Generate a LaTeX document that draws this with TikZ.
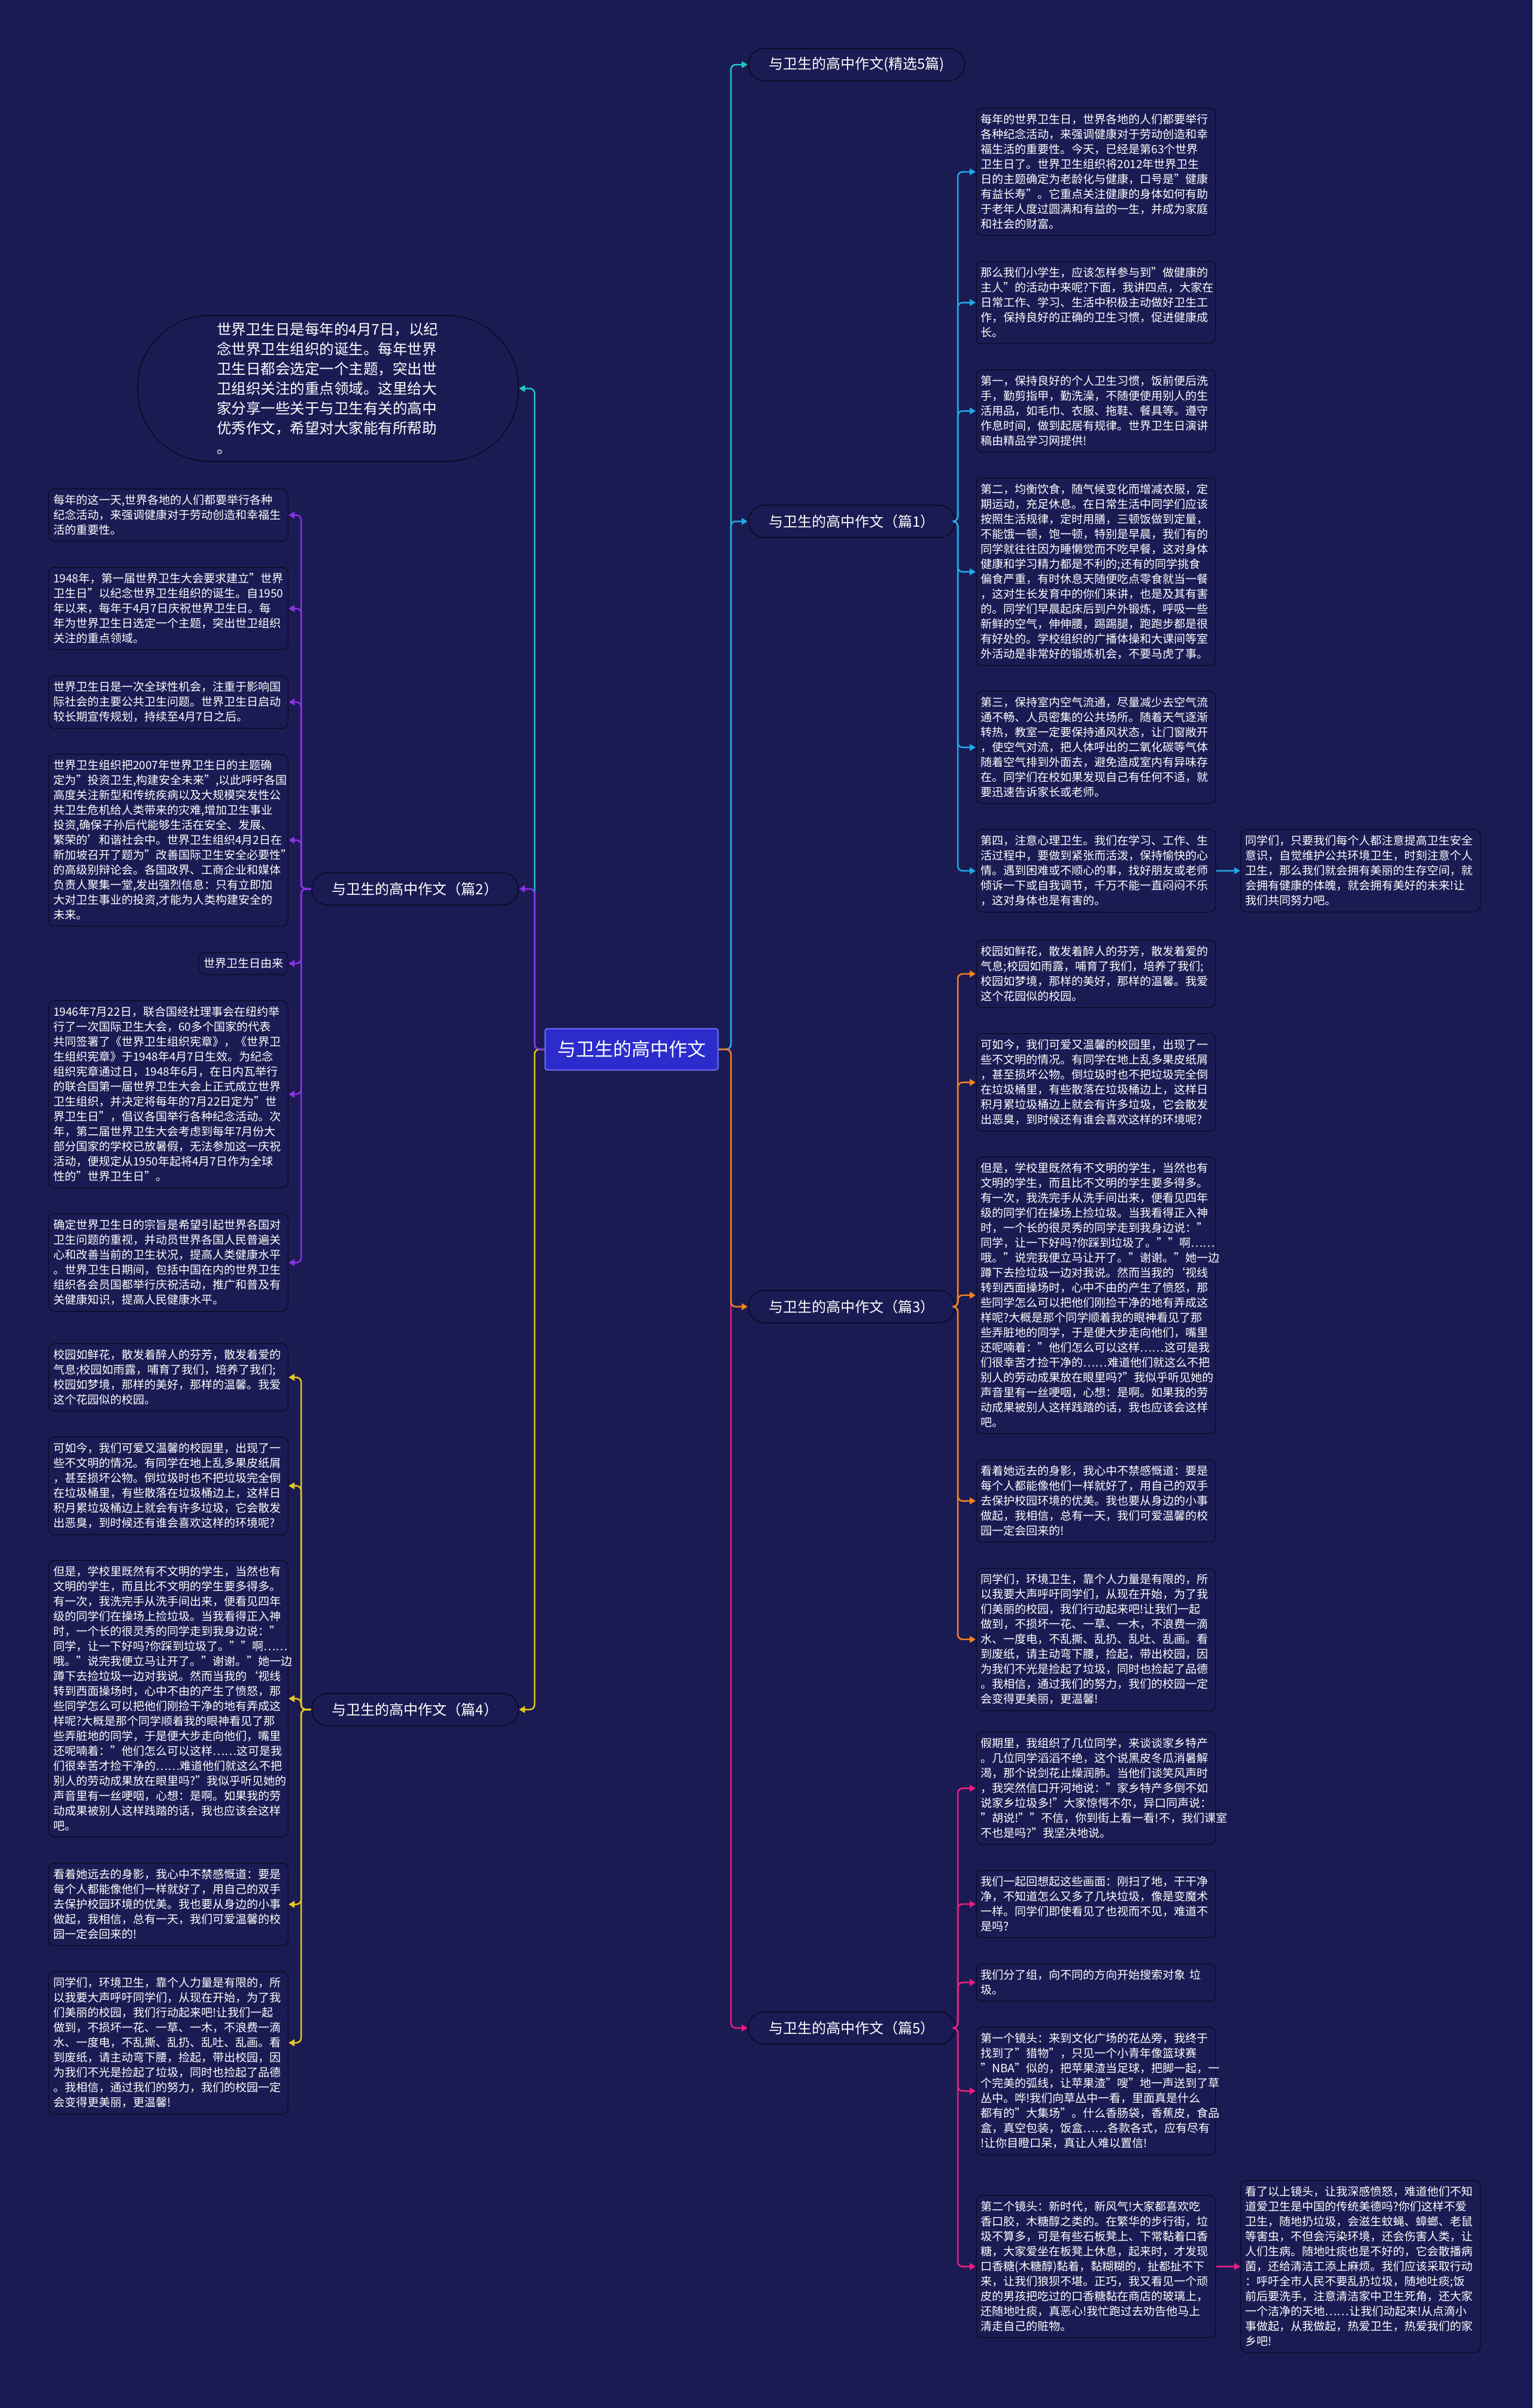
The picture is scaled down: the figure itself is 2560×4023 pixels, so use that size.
\documentclass[tikz,border=0pt]{standalone}
\usepackage{fontspec}
\setmainfont{Noto Sans CJK SC}
\usetikzlibrary{arrows.meta}
\definecolor{bgc}{RGB}{27,27,84}
\definecolor{boxline}{RGB}{12,12,42}
\definecolor{cfill}{RGB}{44,44,205}
\definecolor{cline}{RGB}{110,110,255}
\definecolor{cteal}{RGB}{31,200,200}
\definecolor{cblue}{RGB}{34,170,230}
\definecolor{cpurple}{RGB}{140,50,230}
\definecolor{corange}{RGB}{245,130,32}
\definecolor{cyellow}{RGB}{230,200,30}
\definecolor{cpink}{RGB}{235,30,130}
\begin{document}
\begin{tikzpicture}[x=1pt,y=-1pt,
  txt/.style={draw=boxline, fill=bgc, line width=1.5pt, rounded corners=10pt, text=white, text width=384pt, align=left, inner xsep=8pt, inner ysep=10pt, font=\fontsize{19pt}{25pt}\selectfont},
  branch/.style={draw=boxline, fill=bgc, line width=2pt, rounded corners=27pt, text=white, minimum height=54pt, inner xsep=34pt, font=\fontsize{24pt}{28pt}\selectfont},
  link/.style={line width=2.5pt, rounded corners=8pt, -{Triangle[length=10pt,width=11pt]}},
]
\fill[bgc] (0,0) rectangle (2560,4023);
\useasboundingbox (0,0) rectangle (2560,4023);

% centre
\node[draw=cline, fill=cfill, line width=2pt, rounded corners=4pt, text=white, minimum width=289pt, minimum height=69pt, font=\fontsize{31pt}{36pt}\selectfont] (c) at (1055,1753) {与卫生的高中作文};

% branches
\node[branch, anchor=west] (b0) at (1249,108) {与卫生的高中作文(精选5篇)};
\node[branch, anchor=west] (b1) at (1249,871) {与卫生的高中作文（篇1）};
\node[branch, anchor=west] (b3) at (1249,2183) {与卫生的高中作文（篇3）};
\node[branch, anchor=west] (b5) at (1249,3388) {与卫生的高中作文（篇5）};
\node[branch, anchor=east] (b2) at (867,1485) {与卫生的高中作文（篇2）};
\node[branch, anchor=east] (b4) at (867,2856) {与卫生的高中作文（篇4）};

\node[draw=boxline, fill=bgc, line width=2pt, rounded corners=120pt, text=white, minimum width=636pt, minimum height=244pt, text width=372pt, align=left, font=\fontsize{24.5pt}{33pt}\selectfont, anchor=east] (intro) at (867,649) {世界卫生日是每年的4月7日，以纪\\念世界卫生组织的诞生。每年世界\\卫生日都会选定一个主题，突出世\\卫组织关注的重点领域。这里给大\\家分享一些关于与卫生有关的高中\\优秀作文，希望对大家能有所帮助\\。};

% elbow points
\coordinate (ec) at (1221,1753);
\coordinate (ecl) at (893,1753);
\coordinate (e1) at (1600,871);
\coordinate (e3) at (1600,2183);
\coordinate (e5) at (1600,3388);
\coordinate (e2) at (503,1485);
\coordinate (e4) at (503,2856);

% 篇1 children
\node[txt, anchor=north west] (r1a) at (1630,180) {每年的世界卫生日，世界各地的人们都要举行\\各种纪念活动，来强调健康对于劳动创造和幸\\福生活的重要性。今天，已经是第63个世界\\卫生日了。世界卫生组织将2012年世界卫生\\日的主题确定为老龄化与健康，口号是"健康\\有益长寿"。它重点关注健康的身体如何有助\\于老年人度过圆满和有益的一生，并成为家庭\\和社会的财富。};
\node[txt, anchor=north west] (r1b) at (1630,436) {那么我们小学生，应该怎样参与到"做健康的\\主人"的活动中来呢?下面，我讲四点，大家在\\日常工作、学习、生活中积极主动做好卫生工\\作，保持良好的正确的卫生习惯，促进健康成\\长。};
\node[txt, anchor=north west] (r1c) at (1630,617) {第一，保持良好的个人卫生习惯，饭前便后洗\\手，勤剪指甲，勤洗澡，不随便使用别人的生\\活用品，如毛巾、衣服、拖鞋、餐具等。遵守\\作息时间，做到起居有规律。世界卫生日演讲\\稿由精品学习网提供!};
\node[txt, anchor=north west] (r1d) at (1630,798) {第二，均衡饮食，随气候变化而增减衣服，定\\期运动，充足休息。在日常生活中同学们应该\\按照生活规律，定时用膳，三顿饭做到定量，\\不能饿一顿，饱一顿，特别是早晨，我们有的\\同学就往往因为睡懒觉而不吃早餐，这对身体\\健康和学习精力都是不利的;还有的同学挑食\\偏食严重，有时休息天随便吃点零食就当一餐\\，这对生长发育中的你们来讲，也是及其有害\\的。同学们早晨起床后到户外锻炼，呼吸一些\\新鲜的空气，伸伸腰，踢踢腿，跑跑步都是很\\有好处的。学校组织的广播体操和大课间等室\\外活动是非常好的锻炼机会，不要马虎了事。};
\node[txt, anchor=north west] (r1e) at (1630,1154) {第三，保持室内空气流通，尽量减少去空气流\\通不畅、人员密集的公共场所。随着天气逐渐\\转热，教室一定要保持通风状态，让门窗敞开\\，使空气对流，把人体呼出的二氧化碳等气体\\随着空气排到外面去，避免造成室内有异味存\\在。同学们在校如果发现自己有任何不适，就\\要迅速告诉家长或老师。};
\node[txt, anchor=north west] (r1f) at (1630,1385) {第四，注意心理卫生。我们在学习、工作、生\\活过程中，要做到紧张而活泼，保持愉快的心\\情。遇到困难或不顺心的事，找好朋友或老师\\倾诉一下或自我调节，千万不能一直闷闷不乐\\，这对身体也是有害的。};
\node[txt, anchor=north west] (r1g) at (2072,1385) {同学们，只要我们每个人都注意提高卫生安全\\意识，自觉维护公共环境卫生，时刻注意个人\\卫生，那么我们就会拥有美丽的生存空间，就\\会拥有健康的体魄，就会拥有美好的未来!让\\我们共同努力吧。};

% 篇3 children
\node[txt, anchor=north west] (r3a) at (1630,1570) {校园如鲜花，散发着醉人的芬芳，散发着爱的\\气息;校园如雨露，哺育了我们，培养了我们;\\校园如梦境，那样的美好，那样的温馨。我爱\\这个花园似的校园。};
\node[txt, anchor=north west] (r3b) at (1630,1726) {可如今，我们可爱又温馨的校园里，出现了一\\些不文明的情况。有同学在地上乱多果皮纸屑\\，甚至损坏公物。倒垃圾时也不把垃圾完全倒\\在垃圾桶里，有些散落在垃圾桶边上，这样日\\积月累垃圾桶边上就会有许多垃圾，它会散发\\出恶臭，到时候还有谁会喜欢这样的环境呢?};
\node[txt, anchor=north west] (r3c) at (1630,1932) {但是，学校里既然有不文明的学生，当然也有\\文明的学生，而且比不文明的学生要多得多。\\有一次，我洗完手从洗手间出来，便看见四年\\级的同学们在操场上捡垃圾。当我看得正入神\\时，一个长的很灵秀的同学走到我身边说："\\同学，让一下好吗?你踩到垃圾了。""啊……\\哦。"说完我便立马让开了。"谢谢。"她一边\\蹲下去捡垃圾一边对我说。然而当我的`视线\\转到西面操场时，心中不由的产生了愤怒，那\\些同学怎么可以把他们刚捡干净的地有弄成这\\样呢?大概是那个同学顺着我的眼神看见了那\\些弄脏地的同学，于是便大步走向他们，嘴里\\还呢喃着："他们怎么可以这样……这可是我\\们很幸苦才捡干净的……难道他们就这么不把\\别人的劳动成果放在眼里吗?"我似乎听见她的\\声音里有一丝哽咽，心想：是啊。如果我的劳\\动成果被别人这样践踏的话，我也应该会这样\\吧。};
\node[txt, anchor=north west] (r3d) at (1630,2438) {看着她远去的身影，我心中不禁感慨道：要是\\每个人都能像他们一样就好了，用自己的双手\\去保护校园环境的优美。我也要从身边的小事\\做起，我相信，总有一天，我们可爱温馨的校\\园一定会回来的!};
\node[txt, anchor=north west] (r3e) at (1630,2619) {同学们，环境卫生，靠个人力量是有限的，所\\以我要大声呼吁同学们，从现在开始，为了我\\们美丽的校园，我们行动起来吧!让我们一起\\做到，不损坏一花、一草、一木，不浪费一滴\\水、一度电，不乱撕、乱扔、乱吐、乱画。看\\到废纸，请主动弯下腰，捡起，带出校园，因\\为我们不光是捡起了垃圾，同时也捡起了品德\\。我相信，通过我们的努力，我们的校园一定\\会变得更美丽，更温馨!};

% 篇5 children
\node[txt, anchor=north west] (r5a) at (1630,2893) {假期里，我组织了几位同学，来谈谈家乡特产\\。几位同学滔滔不绝，这个说黑皮冬瓜消暑解\\渴，那个说剑花止燥润肺。当他们谈笑风声时\\，我突然信口开河地说："家乡特产多倒不如\\说家乡垃圾多!"大家惊愕不尔，异口同声说：\\"胡说!""不信，你到街上看一看!不，我们课室\\不也是吗?"我坚决地说。};
\node[txt, anchor=north west] (r5b) at (1630,3124) {我们一起回想起这些画面：刚扫了地，干干净\\净，不知道怎么又多了几块垃圾，像是变魔术\\一样。同学们即使看见了也视而不见，难道不\\是吗?};
\node[txt, anchor=north west] (r5c) at (1630,3280) {我们分了组，向不同的方向开始搜索对象 垃\\圾。};
\node[txt, anchor=north west] (r5d) at (1630,3386) {第一个镜头：来到文化广场的花丛旁，我终于\\找到了"猎物"，只见一个小青年像篮球赛\\"NBA"似的，把苹果渣当足球，把脚一起，一\\个完美的弧线，让苹果渣"嗖"地一声送到了草\\丛中。哗!我们向草丛中一看，里面真是什么\\都有的"大集场"。什么香肠袋，香蕉皮，食品\\盒，真空包装，饭盒……各款各式，应有尽有\\!让你目瞪口呆，真让人难以置信!};
\node[txt, anchor=north west] (r5e) at (1630,3667) {第二个镜头：新时代，新风气!大家都喜欢吃\\香口胶，木糖醇之类的。在繁华的步行街，垃\\圾不算多，可是有些石板凳上、下常黏着口香\\糖，大家爱坐在板凳上休息，起来时，才发现\\口香糖(木糖醇)黏着，黏糊糊的，扯都扯不下\\来，让我们狼狈不堪。正巧，我又看见一个顽\\皮的男孩把吃过的口香糖黏在商店的玻璃上，\\还随地吐痰，真恶心!我忙跑过去劝告他马上\\清走自己的赃物。};
\node[txt, anchor=north west] (r5f) at (2072,3642) {看了以上镜头，让我深感愤怒，难道他们不知\\道爱卫生是中国的传统美德吗?你们这样不爱\\卫生，随地扔垃圾，会滋生蚊蝇、蟑螂、老鼠\\等害虫，不但会污染环境，还会伤害人类，让\\人们生病。随地吐痰也是不好的，它会散播病\\菌，还给清洁工添上麻烦。我们应该采取行动\\：呼吁全市人民不要乱扔垃圾，随地吐痰;饭\\前后要洗手，注意清洁家中卫生死角，还大家\\一个洁净的天地……让我们动起来!从点滴小\\事做起，从我做起，热爱卫生，热爱我们的家\\乡吧!};

% 篇2 children
\node[txt, anchor=north east] (l2a) at (482,816) {每年的这一天,世界各地的人们都要举行各种\\纪念活动，来强调健康对于劳动创造和幸福生\\活的重要性。};
\node[txt, anchor=north east] (l2b) at (482,947) {1948年，第一届世界卫生大会要求建立"世界\\卫生日"以纪念世界卫生组织的诞生。自1950\\年以来，每年于4月7日庆祝世界卫生日。每\\年为世界卫生日选定一个主题，突出世卫组织\\关注的重点领域。};
\node[txt, anchor=north east] (l2c) at (482,1128) {世界卫生日是一次全球性机会，注重于影响国\\际社会的主要公共卫生问题。世界卫生日启动\\较长期宣传规划，持续至4月7日之后。};
\node[txt, anchor=north east] (l2d) at (482,1259) {世界卫生组织把2007年世界卫生日的主题确\\定为"投资卫生,构建安全未来",以此呼吁各国\\高度关注新型和传统疾病以及大规模突发性公\\共卫生危机给人类带来的灾难,增加卫生事业\\投资,确保子孙后代能够生活在安全、发展、\\繁荣的'和谐社会中。世界卫生组织4月2日在\\新加坡召开了题为"改善国际卫生安全必要性"\\的高级别辩论会。各国政界、工商企业和媒体\\负责人聚集一堂,发出强烈信息：只有立即加\\大对卫生事业的投资,才能为人类构建安全的\\未来。};
\node[txt, text width=, anchor=north east] (l2e) at (482,1590) {世界卫生日由来};
\node[txt, anchor=north east] (l2f) at (482,1671) {1946年7月22日，联合国经社理事会在纽约举\\行了一次国际卫生大会，60多个国家的代表\\共同签署了《世界卫生组织宪章》，《世界卫\\生组织宪章》于1948年4月7日生效。为纪念\\组织宪章通过日，1948年6月，在日内瓦举行\\的联合国第一届世界卫生大会上正式成立世界\\卫生组织，并决定将每年的7月22日定为"世\\界卫生日"，倡议各国举行各种纪念活动。次\\年，第二届世界卫生大会考虑到每年7月份大\\部分国家的学校已放暑假，无法参加这一庆祝\\活动，便规定从1950年起将4月7日作为全球\\性的"世界卫生日"。};
\node[txt, anchor=north east] (l2g) at (482,2027) {确定世界卫生日的宗旨是希望引起世界各国对\\卫生问题的重视，并动员世界各国人民普遍关\\心和改善当前的卫生状况，提高人类健康水平\\。世界卫生日期间，包括中国在内的世界卫生\\组织各会员国都举行庆祝活动，推广和普及有\\关健康知识，提高人民健康水平。};

% 篇4 children
\node[txt, anchor=north east] (l4a) at (482,2244) {校园如鲜花，散发着醉人的芬芳，散发着爱的\\气息;校园如雨露，哺育了我们，培养了我们;\\校园如梦境，那样的美好，那样的温馨。我爱\\这个花园似的校园。};
\node[txt, anchor=north east] (l4b) at (482,2400) {可如今，我们可爱又温馨的校园里，出现了一\\些不文明的情况。有同学在地上乱多果皮纸屑\\，甚至损坏公物。倒垃圾时也不把垃圾完全倒\\在垃圾桶里，有些散落在垃圾桶边上，这样日\\积月累垃圾桶边上就会有许多垃圾，它会散发\\出恶臭，到时候还有谁会喜欢这样的环境呢?};
\node[txt, anchor=north east] (l4c) at (482,2606) {但是，学校里既然有不文明的学生，当然也有\\文明的学生，而且比不文明的学生要多得多。\\有一次，我洗完手从洗手间出来，便看见四年\\级的同学们在操场上捡垃圾。当我看得正入神\\时，一个长的很灵秀的同学走到我身边说："\\同学，让一下好吗?你踩到垃圾了。""啊……\\哦。"说完我便立马让开了。"谢谢。"她一边\\蹲下去捡垃圾一边对我说。然而当我的`视线\\转到西面操场时，心中不由的产生了愤怒，那\\些同学怎么可以把他们刚捡干净的地有弄成这\\样呢?大概是那个同学顺着我的眼神看见了那\\些弄脏地的同学，于是便大步走向他们，嘴里\\还呢喃着："他们怎么可以这样……这可是我\\们很幸苦才捡干净的……难道他们就这么不把\\别人的劳动成果放在眼里吗?"我似乎听见她的\\声音里有一丝哽咽，心想：是啊。如果我的劳\\动成果被别人这样践踏的话，我也应该会这样\\吧。};
\node[txt, anchor=north east] (l4d) at (482,3112) {看着她远去的身影，我心中不禁感慨道：要是\\每个人都能像他们一样就好了，用自己的双手\\去保护校园环境的优美。我也要从身边的小事\\做起，我相信，总有一天，我们可爱温馨的校\\园一定会回来的!};
\node[txt, anchor=north east] (l4e) at (482,3293) {同学们，环境卫生，靠个人力量是有限的，所\\以我要大声呼吁同学们，从现在开始，为了我\\们美丽的校园，我们行动起来吧!让我们一起\\做到，不损坏一花、一草、一木，不浪费一滴\\水、一度电，不乱撕、乱扔、乱吐、乱画。看\\到废纸，请主动弯下腰，捡起，带出校园，因\\为我们不光是捡起了垃圾，同时也捡起了品德\\。我相信，通过我们的努力，我们的校园一定\\会变得更美丽，更温馨!};

% connectors from centre
\draw[link, cteal] (c.east) -- (ec) |- (b0.west);
\draw[link, cblue] (c.east) -- (ec) |- (b1.west);
\draw[link, cpink] (c.east) -- (ec) |- (b5.west);
\draw[link, corange] (c.east) -- (ec) |- (b3.west);
\draw[link, cteal] (c.west) -- (ecl) |- (intro.east);
\draw[link, cyellow] (c.west) -- (ecl) |- (b4.east);
\draw[link, cpurple] (c.west) -- (ecl) |- (b2.east);

% 篇1
\foreach \n in {r1a,r1b,r1c,r1d,r1e,r1f}
  \draw[link, cblue] (b1.east) -- (e1) |- (\n.west);
\draw[link, cblue] (r1f.east) -- (r1g.west);
% 篇3
\foreach \n in {r3a,r3b,r3c,r3d,r3e}
  \draw[link, corange] (b3.east) -- (e3) |- (\n.west);
% 篇5
\foreach \n in {r5a,r5b,r5c,r5d,r5e}
  \draw[link, cpink] (b5.east) -- (e5) |- (\n.west);
\draw[link, cpink] (r5e.east) -- (r5f.west);
% 篇2
\foreach \n in {l2a,l2b,l2c,l2d,l2e,l2f,l2g}
  \draw[link, cpurple] (b2.west) -- (e2) |- (\n.east);
% 篇4
\foreach \n in {l4a,l4b,l4c,l4d,l4e}
  \draw[link, cyellow] (b4.west) -- (e4) |- (\n.east);
\end{tikzpicture}
\end{document}
